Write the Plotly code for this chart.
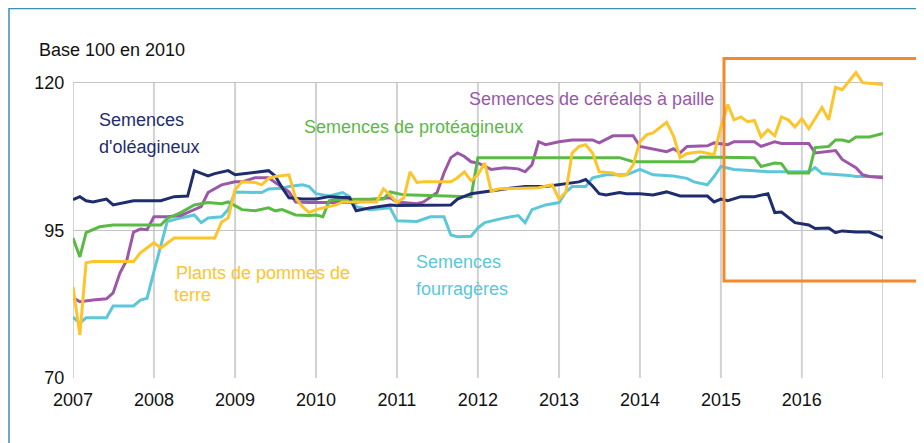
import plotly.graph_objects as go

# ---------------- data ----------------
years = ["2007", "2008", "2009", "2010", "2011", "2012", "2013", "2014", "2015", "2016", ""]
year_ticks = ["2007-01-01", "2008-01-01", "2009-01-01", "2010-01-01", "2011-01-01", "2012-01-01",
              "2013-01-01", "2014-01-01", "2015-01-01", "2016-01-01", "2017-01-01"]
y_ticks = [70, 95, 120]

oleag_dates = ["2007-01", "2007-02", "2007-03", "2007-04", "2007-06", "2007-07", "2007-10", "2008-02",
               "2008-04", "2008-06", "2008-07", "2008-08", "2008-09", "2008-10", "2008-12", "2009-01",
               "2009-03", "2009-04", "2009-06", "2009-07", "2009-08", "2009-09", "2009-11", "2010-01",
               "2010-03", "2010-06", "2010-07", "2010-09", "2010-12", "2011-01", "2011-09", "2011-10",
               "2011-12", "2012-05", "2012-08", "2012-11", "2013-02", "2013-04", "2013-05", "2013-06",
               "2013-07", "2013-08", "2013-10", "2013-11", "2014-01", "2014-03", "2014-05", "2014-07",
               "2014-11", "2014-12", "2015-01", "2015-02", "2015-04", "2015-06", "2015-08", "2015-09",
               "2015-10", "2015-12", "2016-02", "2016-03", "2016-05", "2016-06", "2016-07", "2016-09",
               "2016-11", "2017-01"]
oleag_vals = [100.2, 100.7, 100.0, 99.8, 100.3, 99.3, 100.0, 100.0,
              100.7, 100.8, 105.1, 104.6, 104.2, 104.6, 105.1, 104.4,
              104.7, 104.9, 105.1, 104.2, 102.2, 100.5, 100.3, 100.3,
              100.7, 100.5, 98.3, 98.8, 99.3, 99.2, 99.3, 100.3,
              101.2, 102.0, 102.4, 102.4, 102.9, 103.2, 103.6, 102.5,
              101.2, 101.0, 101.4, 101.2, 101.2, 101.0, 101.5, 100.8,
              100.8, 99.8, 100.3, 100.0, 100.7, 100.7, 101.2, 98.0,
              98.1, 96.3, 95.9, 95.3, 95.4, 94.6, 94.9, 94.7,
              94.7, 93.7]

proteag_dates = ["2007-01", "2007-02", "2007-03", "2007-05", "2007-07", "2008-02", "2008-03", "2008-05",
                 "2008-07", "2008-09", "2008-11", "2008-12", "2009-02", "2009-04", "2009-06", "2009-07",
                 "2009-08", "2009-10", "2009-12", "2010-01", "2010-02", "2010-03", "2010-04", "2010-11",
                 "2010-12", "2011-02", "2011-12", "2012-01", "2013-10", "2013-12", "2014-09", "2014-10",
                 "2015-06", "2015-07", "2015-09", "2015-10", "2015-11", "2016-02", "2016-03", "2016-05",
                 "2016-06", "2016-07", "2016-08", "2016-09", "2016-11", "2017-01"]
proteag_vals = [93.7, 90.5, 94.6, 95.6, 95.9, 95.9, 97.0, 98.0,
                99.3, 99.7, 99.5, 99.8, 98.5, 98.3, 98.8, 98.3,
                98.5, 97.6, 97.5, 97.6, 97.3, 100.0, 100.2, 100.3,
                101.5, 101.0, 100.7, 107.3, 107.3, 106.6, 106.6, 107.4,
                107.3, 105.8, 106.4, 106.3, 104.7, 104.7, 109.0, 109.2,
                110.3, 110.3, 110.0, 110.8, 110.8, 111.4]

cereal_dates = ["2007-01", "2007-02", "2007-04", "2007-06", "2007-07", "2007-08", "2007-09", "2007-10",
                "2007-11", "2007-12", "2008-01", "2008-03", "2008-05", "2008-08", "2008-09", "2008-11",
                "2009-01", "2009-02", "2009-04", "2009-06", "2009-07", "2009-09", "2009-10", "2009-12",
                "2010-07", "2010-09", "2010-12", "2011-01", "2011-04", "2011-05", "2011-07", "2011-08",
                "2011-09", "2011-10", "2011-11", "2011-12", "2012-01", "2012-03", "2012-05", "2012-07",
                "2012-08", "2012-09", "2012-10", "2012-11", "2013-01", "2013-03", "2013-06", "2013-07",
                "2013-09", "2013-12", "2014-01", "2014-03", "2014-05", "2014-06", "2014-07", "2014-08",
                "2014-11", "2014-12", "2015-02", "2015-03", "2015-06", "2015-07", "2015-09", "2015-10",
                "2016-02", "2016-03", "2016-05", "2016-06", "2016-07", "2016-08", "2016-09", "2016-10",
                "2016-11", "2017-01"]
cereal_vals = [83.6, 82.9, 83.2, 83.4, 84.4, 87.8, 90.0, 94.7,
               95.2, 95.1, 97.3, 97.3, 97.5, 99.0, 101.4, 102.7,
               103.2, 103.2, 103.9, 103.9, 103.1, 101.5, 99.8, 99.7,
               99.7, 100.2, 100.5, 99.8, 99.5, 99.8, 101.4, 104.7,
               107.3, 108.1, 107.5, 106.6, 106.4, 105.3, 105.6, 105.4,
               104.9, 106.1, 110.0, 109.5, 110.0, 110.3, 110.3, 109.8,
               111.0, 111.0, 109.2, 108.8, 108.3, 108.8, 108.1, 109.2,
               109.3, 109.8, 109.5, 110.0, 110.0, 109.2, 110.0, 109.7,
               109.7, 108.1, 108.3, 108.5, 107.0, 106.3, 105.6, 104.4,
               104.1, 103.9]

fourr_dates = ["2007-01", "2007-02", "2007-03", "2007-06", "2007-07", "2007-10", "2007-11", "2007-12",
               "2008-01", "2008-02", "2008-03", "2008-05", "2008-06", "2008-07", "2008-08", "2008-09",
               "2008-11", "2008-12", "2009-01", "2009-03", "2009-05", "2009-06", "2009-08", "2009-09",
               "2009-11", "2009-12", "2010-01", "2010-03", "2010-05", "2010-06", "2010-07", "2010-09",
               "2010-12", "2011-01", "2011-04", "2011-06", "2011-08", "2011-09", "2011-10", "2011-12",
               "2012-01", "2012-02", "2012-05", "2012-07", "2012-08", "2012-09", "2012-11", "2013-01",
               "2013-02", "2013-03", "2013-05", "2013-06", "2013-08", "2013-11", "2014-01", "2014-03",
               "2014-06", "2014-08", "2014-09", "2014-11", "2014-12", "2015-01", "2015-03", "2015-06",
               "2015-08", "2015-11", "2016-02", "2016-03", "2016-04", "2016-08", "2016-09", "2017-01"]
fourr_vals = [80.3, 79.3, 80.2, 80.2, 82.2, 82.2, 83.2, 83.5,
              88.0, 92.5, 96.5, 97.1, 97.3, 97.6, 96.3, 97.1,
              97.3, 98.5, 101.5, 101.5, 101.4, 102.0, 102.1, 102.4,
              102.7, 102.4, 101.2, 100.8, 101.4, 100.7, 99.0, 98.5,
              98.8, 96.6, 96.5, 97.3, 97.3, 94.2, 93.9, 94.0,
              95.4, 96.3, 97.1, 97.5, 96.3, 98.5, 99.3, 99.7,
              101.5, 102.4, 102.4, 103.9, 104.4, 104.4, 105.3, 104.4,
              104.2, 103.8, 103.2, 102.7, 104.1, 105.8, 105.3, 105.1,
              104.9, 104.9, 104.9, 105.6, 104.6, 104.3, 104.1, 104.1]

pdt_dates = ["2007-01", "2007-02", "2007-03", "2007-04", "2007-10", "2007-11", "2008-01", "2008-02",
             "2008-04", "2008-10", "2008-11", "2008-12", "2009-01", "2009-02", "2009-04", "2009-05",
             "2009-06", "2009-07", "2009-09", "2009-10", "2009-11", "2009-12", "2010-01", "2010-02",
             "2010-04", "2010-05", "2010-10", "2010-11", "2010-12", "2011-01", "2011-02", "2011-03",
             "2011-04", "2011-05", "2011-09", "2011-10", "2011-11", "2011-12", "2012-01", "2012-02",
             "2012-03", "2012-04", "2012-10", "2012-12", "2013-01", "2013-02", "2013-03", "2013-04",
             "2013-05", "2013-06", "2013-07", "2013-09", "2013-10", "2013-11", "2013-12", "2014-01",
             "2014-02", "2014-03", "2014-05", "2014-06", "2014-07", "2014-08", "2014-10", "2014-12",
             "2015-01", "2015-02", "2015-03", "2015-04", "2015-05", "2015-06", "2015-07", "2015-08",
             "2015-09", "2015-10", "2015-11", "2015-12", "2016-01", "2016-02", "2016-04", "2016-05",
             "2016-06", "2016-07", "2016-09", "2016-10", "2017-01"]
pdt_vals = [85.4, 77.3, 89.5, 89.7, 89.7, 91.2, 92.9, 92.0,
            93.7, 93.7, 96.4, 97.1, 101.9, 103.2, 103.1, 102.7,
            103.8, 104.1, 104.4, 100.5, 99.0, 98.0, 98.5, 98.8,
            99.3, 99.8, 99.8, 102.0, 101.0, 99.7, 100.5, 104.9,
            103.1, 103.2, 103.2, 103.9, 104.9, 103.4, 104.4, 106.4,
            101.6, 102.0, 102.2, 102.7, 100.3, 101.5, 108.1, 109.2,
            109.5, 108.1, 104.9, 104.7, 104.2, 104.4, 106.1, 110.0,
            111.2, 111.5, 113.3, 111.0, 107.3, 108.0, 108.3, 107.8,
            112.5, 116.3, 113.7, 114.2, 113.4, 113.6, 110.8, 112.0,
            111.0, 114.2, 113.7, 112.5, 113.9, 112.2, 115.8, 113.7,
            119.2, 118.8, 121.7, 120.0, 119.7]

# ---------------- figure ----------------
# the page body has an 8px margin; build the figure in window pixel coordinates minus that offset
OFF = 8
W, H = 924 - OFF, 443 - OFF
PLOT_L, PLOT_R = 73, 883          # window px of 2007 / 2017
PLOT_Y120, PLOT_Y70 = 83, 378     # window px of 120 / 70
YMAX = 124.0
ppu = (PLOT_Y70 - PLOT_Y120) / 50.0
plot_top = PLOT_Y120 - (YMAX - 120) * ppu

L = PLOT_L - OFF
R = W - (PLOT_R - OFF)
T = plot_top - OFF
B = H - (PLOT_Y70 - OFF)
PW, PH = W - L - R, H - T - B


def px(x):
    return (x - OFF - L) / PW


def py(y):
    return (H - B - (y - OFF)) / PH


FONT = "Liberation Sans, Arial, sans-serif"
FS = 18
C_NAVY = "#1f2d6e"
C_GREEN = "#5bb946"
C_PURPLE = "#9c58a8"
C_YELLOW = "#fcc52c"
C_CYAN = "#5bc7d9"

fig = go.Figure()

# vertical year gridlines (from 70 to 120 only)
for t in year_ticks:
    fig.add_shape(type="line", xref="x", yref="y", x0=t, x1=t, y0=70, y1=120,
                  line=dict(color="#d2d2d2", width=2), layer="below")

series = [
    (fourr_dates, fourr_vals, C_CYAN, "Semences fourragères"),
    (cereal_dates, cereal_vals, C_PURPLE, "Semences de céréales à paille"),
    (proteag_dates, proteag_vals, C_GREEN, "Semences de protéagineux"),
    (oleag_dates, oleag_vals, C_NAVY, "Semences d'oléagineux"),
    (pdt_dates, pdt_vals, C_YELLOW, "Plants de pommes de terre"),
]
for d, v, c, n in series:
    fig.add_trace(go.Scatter(x=d, y=v, mode="lines", name=n,
                             line=dict(color=c, width=3), showlegend=False))


def label(text, x, y, color):
    fig.add_annotation(text=text, xref="paper", yref="paper", x=px(x), y=py(y),
                       xanchor="left", yanchor="middle", showarrow=False,
                       font=dict(family=FONT, size=FS, color=color))


label("Base 100 en 2010", 37, 50, "#111111")
label("Semences", 97, 120, C_NAVY)
label("d'oléagineux", 97, 147, C_NAVY)
label("Semences de protéagineux", 302, 127, C_GREEN)
label("Semences de céréales à paille", 467, 99, C_PURPLE)
label("Plants de pommes de", 174, 273, C_YELLOW)
label("terre", 172, 295, C_YELLOW)
label("Semences", 414, 262, C_CYAN)
label("fourragères", 414, 289, C_CYAN)

# outer frame
fig.add_shape(type="rect", xref="paper", yref="paper",
              x0=px(9), x1=px(960), y0=py(470), y1=py(9),
              line=dict(color="#3a8db5", width=1.5), layer="below")
# highlight box
fig.add_shape(type="rect", xref="paper", yref="paper",
              x0=px(724), x1=px(960), y0=py(281), y1=py(59),
              line=dict(color="#f28a2b", width=3))

fig.update_layout(
    width=W, height=H,
    margin=dict(l=L, r=R, t=T, b=B, pad=0),
    paper_bgcolor="white", plot_bgcolor="white",
    font=dict(family=FONT, size=FS, color="#111111"),
    xaxis=dict(type="date", range=["2007-01-01", "2017-01-01"],
               tickmode="array", tickvals=year_ticks, ticktext=years,
               showgrid=False, zeroline=False, showline=False,
               ticks="outside", ticklen=5, tickcolor="rgba(0,0,0,0)",
               tickfont=dict(family=FONT, size=FS, color="#111111")),
    yaxis=dict(range=[70, YMAX], tickmode="array", tickvals=y_ticks,
               showgrid=True, gridcolor="#c4c4c4", gridwidth=1,
               zeroline=False, showline=False,
               ticks="outside", ticklen=4, tickcolor="rgba(0,0,0,0)",
               tickfont=dict(family=FONT, size=FS, color="#111111")),
)

fig.write_html("out.html")
